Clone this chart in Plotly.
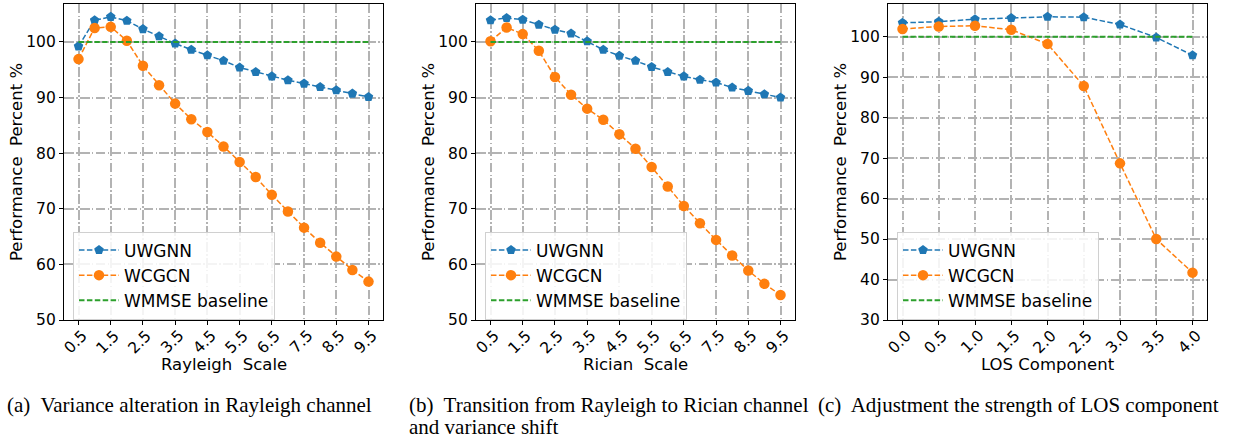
import plotly.graph_objects as go

# ---- data ----------------------------------------------------------------
scale_x = [0.5, 1.0, 1.5, 2.0, 2.5, 3.0, 3.5, 4.0, 4.5, 5.0,
           5.5, 6.0, 6.5, 7.0, 7.5, 8.0, 8.5, 9.0, 9.5]
scale_ticks = [0.5, 1.5, 2.5, 3.5, 4.5, 5.5, 6.5, 7.5, 8.5, 9.5]
scale_ticktext = ["0.5", "1.5", "2.5", "3.5", "4.5", "5.5", "6.5", "7.5", "8.5", "9.5"]

# (a) Rayleigh scale
uwgnn_a = [99.2, 103.9, 104.5, 103.8, 102.3, 101.0, 99.7, 98.6, 97.6, 96.6,
           95.4, 94.6, 93.8, 93.1, 92.5, 91.9, 91.3, 90.7, 90.1]
wcgcn_a = [96.9, 102.5, 102.7, 100.2, 95.7, 92.2, 88.9, 86.1, 83.8, 81.2,
           78.4, 75.7, 72.5, 69.5, 66.6, 63.9, 61.4, 59.0, 56.9]

# (b) Rician scale
uwgnn_b = [103.9, 104.3, 104.0, 103.1, 102.2, 101.5, 100.1, 98.6, 97.5, 96.6,
           95.5, 94.6, 93.8, 93.2, 92.7, 91.8, 91.2, 90.6, 90.0]
wcgcn_b = [100.1, 102.6, 101.4, 98.4, 93.7, 90.5, 88.0, 86.0, 83.4, 80.8,
           77.5, 74.0, 70.5, 67.4, 64.4, 61.6, 58.9, 56.5, 54.5]

# (c) LOS component
los_x = [0.0, 0.5, 1.0, 1.5, 2.0, 2.5, 3.0, 3.5, 4.0]
los_ticktext = ["0.0", "0.5", "1.0", "1.5", "2.0", "2.5", "3.0", "3.5", "4.0"]
uwgnn_c = [103.4, 103.7, 104.3, 104.6, 104.9, 104.8, 103.0, 99.8, 95.4]
wcgcn_c = [101.9, 102.5, 102.7, 101.7, 98.2, 87.8, 68.7, 50.0, 41.7]

# WMMSE baseline is the 100 % reference
wmmse_ab = [100, 100, 100, 100, 100, 100, 100, 100, 100, 100,
            100, 100, 100, 100, 100, 100, 100, 100, 100]
wmmse_c = [100, 100, 100, 100, 100, 100, 100, 100, 100]

x_titles = ["Rayleigh  Scale", "Rician  Scale", "LOS Component"]
y_title = "Performance  Percent %"
captions = [
    ["(a)  Variance alteration in Rayleigh channel"],
    ["(b)  Transition from Rayleigh to Rician channel", "and variance shift"],
    ["(c)  Adjustment the strength of LOS component"],
]

# ---- style ---------------------------------------------------------------
W, H = 1238, 443
BLUE, ORANGE, GREEN = "#1f77b4", "#ff7f0e", "#2ca02c"
FONT = "DejaVu Sans"
SERIF = "Liberation Serif"
LINE_DASH = "5.5px,2.4px"
GRID_DASH = "9.6px,2.4px,1.5px,2.4px"

# plot-area boxes in pixels: (left, right, top, bottom)
boxes = [(64, 383, 3.5, 320), (476, 795, 3.5, 320), (888, 1207, 4, 320)]
y_ranges = [[50, 106.9], [50, 106.9], [30, 108.06]]
x_ranges = [[0.05, 9.95], [0.05, 9.95], [-0.2, 4.2]]

panels = [
    (scale_x, uwgnn_a, wcgcn_a, wmmse_ab, scale_ticks, scale_ticktext, [50, 60, 70, 80, 90, 100]),
    (scale_x, uwgnn_b, wcgcn_b, wmmse_ab, scale_ticks, scale_ticktext, [50, 60, 70, 80, 90, 100]),
    (los_x, uwgnn_c, wcgcn_c, wmmse_c, los_x, los_ticktext, [30, 40, 50, 60, 70, 80, 90, 100]),
]

fig = go.Figure()
layout = dict(
    width=W, height=H,
    margin=dict(l=0, r=0, t=0, b=0, pad=0, autoexpand=False),
    paper_bgcolor="white", plot_bgcolor="white",
    font=dict(family=FONT, color="black", size=15),
    annotations=[],
)

for i, (xs, uw, wc, base, tv, tt, ytv) in enumerate(panels):
    n = "" if i == 0 else str(i + 1)
    xa, ya = "x" + n, "y" + n
    leg = "legend" + n
    fig.add_trace(go.Scatter(
        x=xs, y=uw, xaxis=xa, yaxis=ya, name="UWGNN", legend=leg,
        mode="lines+markers",
        line=dict(color=BLUE, width=1.5, dash=LINE_DASH),
        marker=dict(symbol="pentagon", size=10, color=BLUE),
    ))
    fig.add_trace(go.Scatter(
        x=xs, y=wc, xaxis=xa, yaxis=ya, name="WCGCN", legend=leg,
        mode="lines+markers",
        line=dict(color=ORANGE, width=1.5, dash=LINE_DASH),
        marker=dict(symbol="circle", size=10.5, color=ORANGE),
    ))
    fig.add_trace(go.Scatter(
        x=xs, y=base, xaxis=xa, yaxis=ya, name="WMMSE baseline", legend=leg,
        mode="lines",
        line=dict(color=GREEN, width=2, dash=LINE_DASH),
    ))

    l, r, t, b = boxes[i]
    axis_common = dict(
        showline=True, mirror=True, linecolor="black", linewidth=1.2,
        ticks="outside", ticklen=4, tickwidth=1, tickcolor="black",
        showgrid=True, gridcolor="#b3b3b3", gridwidth=1.5, griddash=GRID_DASH,
        zeroline=False, automargin=False,
        tickfont=dict(family=FONT, size=15.5, color="black"),
    )
    layout["xaxis" + n] = dict(
        axis_common, domain=[l / W, r / W], anchor=ya, range=x_ranges[i],
        tickmode="array", tickvals=tv, showticklabels=False,
    )
    layout["yaxis" + n] = dict(
        axis_common, domain=[1 - b / H, 1 - t / H], anchor=xa, range=y_ranges[i],
        tickmode="array", tickvals=ytv,
    )
    layout[leg] = dict(
        x=(l + 9) / W, y=1 - 231.5 / H, xanchor="left", yanchor="top",
        bgcolor="rgba(255,255,255,0.85)", bordercolor="#d0d0d0", borderwidth=1,
        font=dict(family=FONT, size=17, color="black"),
        tracegroupgap=0, itemwidth=40,
    )
    # rotated x tick labels, centred under each tick
    for v, s in zip(tv, tt):
        layout["annotations"].append(dict(
            text=s, xref=xa, yref="paper", x=v, y=1 - 325 / H,
            xanchor="center", yanchor="top", textangle=-45, xshift=-3,
            showarrow=False, borderpad=0,
            font=dict(family=FONT, size=15.5, color="black"),
        ))
    # axis titles
    layout["annotations"].append(dict(
        text=x_titles[i], xref="paper", yref="paper",
        x=(l + r) / 2 / W, y=1 - 364 / H, xanchor="center", yanchor="middle",
        showarrow=False, font=dict(family=FONT, size=16.5, color="black"),
    ))
    layout["annotations"].append(dict(
        text=y_title, xref="paper", yref="paper", textangle=-90,
        x=(l - 48) / W, y=1 - 162 / H, xanchor="center", yanchor="middle",
        showarrow=False, font=dict(family=FONT, size=16.5, color="black"),
    ))

# sub-figure captions, one annotation per line
cap_x = [6, 408, 817]
for i, lines in enumerate(captions):
    for k, txt in enumerate(lines):
        layout["annotations"].append(dict(
            text=txt, xref="paper", yref="paper",
            x=cap_x[i] / W, y=1 - (405 + 21.7 * k) / H,
            xanchor="left", yanchor="middle", align="left",
            showarrow=False, borderpad=0,
            font=dict(family=SERIF, size=21, color="black"),
        ))

fig.update_layout(**layout)
fig.write_html("out.html")
